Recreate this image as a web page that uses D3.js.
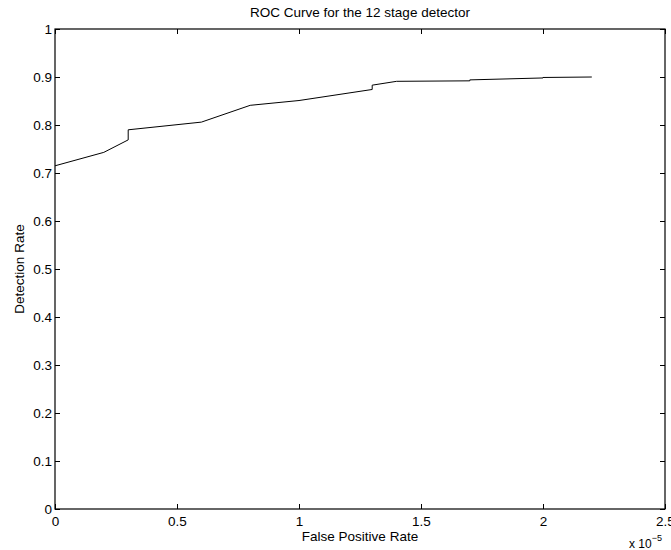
<!DOCTYPE html>
<html>
<head>
<meta charset="utf-8">
<script src="https://cdn.jsdelivr.net/npm/d3@7"></script>
<style>
body { margin: 0; background: #fff; }
text { font-family: "Liberation Sans", Arial, sans-serif; fill: #000; }
</style>
</head>
<body>
<div id="chart"></div>
<script>
// false positive rate (x 1e-5) and detection rate
var fpRate = [0, 0.2, 0.3, 0.3, 0.6, 0.8, 1.0, 1.3, 1.3, 1.4, 1.7, 1.7, 2.0, 2.0, 2.2];
var detRate = [0.715, 0.743, 0.769, 0.790, 0.806, 0.841, 0.851, 0.874, 0.883, 0.891, 0.892, 0.894, 0.898, 0.899, 0.900];
var xTicks = [0, 0.5, 1, 1.5, 2, 2.5];
var yTicks = [0, 0.1, 0.2, 0.3, 0.4, 0.5, 0.6, 0.7, 0.8, 0.9, 1];

var width = 671, height = 550;
var margin = {top: 29, left: 55, right: 6, bottom: 41};
var fs = '13.5px';

var svg = d3.select('#chart').append('svg')
    .attr('width', width)
    .attr('height', height);

var x = d3.scaleLinear().domain([0, 2.5]).range([margin.left, width - margin.right]);
var y = d3.scaleLinear().domain([0, 1]).range([height - margin.bottom, margin.top]);

var tick = 5;

// bottom / top axes, ticks pointing inward
var xb = svg.append('g')
    .attr('transform', 'translate(0,' + y(0) + ')')
    .call(d3.axisBottom(x).tickValues(xTicks).tickSize(-tick).tickPadding(7).tickFormat(d3.format('')));
var xt = svg.append('g')
    .attr('transform', 'translate(0,' + y(1) + ')')
    .call(d3.axisTop(x).tickValues(xTicks).tickSize(-tick).tickFormat(''));
var yl = svg.append('g')
    .attr('transform', 'translate(' + x(0) + ',0)')
    .call(d3.axisLeft(y).tickValues(yTicks).tickSize(-tick).tickPadding(3).tickFormat(d3.format('')));
var yr = svg.append('g')
    .attr('transform', 'translate(' + x(2.5) + ',0)')
    .call(d3.axisRight(y).tickValues(yTicks).tickSize(-tick).tickFormat(''));

[xb, xt, yl, yr].forEach(function(g) {
    g.select('.domain').remove();
    g.selectAll('line').attr('stroke', '#000');
    g.selectAll('text').style('font-size', fs).attr('fill', '#000');
});
yl.selectAll('text').attr('dy', '0.32em');

svg.append('rect')
    .attr('x', x(0)).attr('y', y(1))
    .attr('width', x(2.5) - x(0)).attr('height', y(0) - y(1))
    .attr('fill', 'none').attr('stroke', '#000').attr('stroke-width', 1.2);

var line = d3.line()
    .x(function(d, i) { return x(fpRate[i]); })
    .y(function(d) { return y(d); });

svg.append('path')
    .datum(detRate)
    .attr('d', line)
    .attr('fill', 'none')
    .attr('stroke', '#000')
    .attr('stroke-width', 1);

svg.append('text')
    .attr('x', (x(0) + x(2.5)) / 2).attr('y', 17)
    .attr('text-anchor', 'middle')
    .style('font-size', fs)
    .text('ROC Curve for the 12 stage detector');

svg.append('text')
    .attr('x', (x(0) + x(2.5)) / 2).attr('y', 541)
    .attr('text-anchor', 'middle')
    .style('font-size', fs)
    .text('False Positive Rate');

svg.append('text')
    .attr('transform', 'translate(24,' + (y(0) + y(1)) / 2 + ') rotate(-90)')
    .attr('text-anchor', 'middle')
    .style('font-size', fs)
    .text('Detection Rate');

var exp = svg.append('text')
    .attr('x', 629).attr('y', 548)
    .style('font-size', '12px');
exp.append('tspan').text('x 10');
exp.append('tspan').attr('dy', -7).style('font-size', '9px').text('\u22125');
</script>
</body>
</html>
